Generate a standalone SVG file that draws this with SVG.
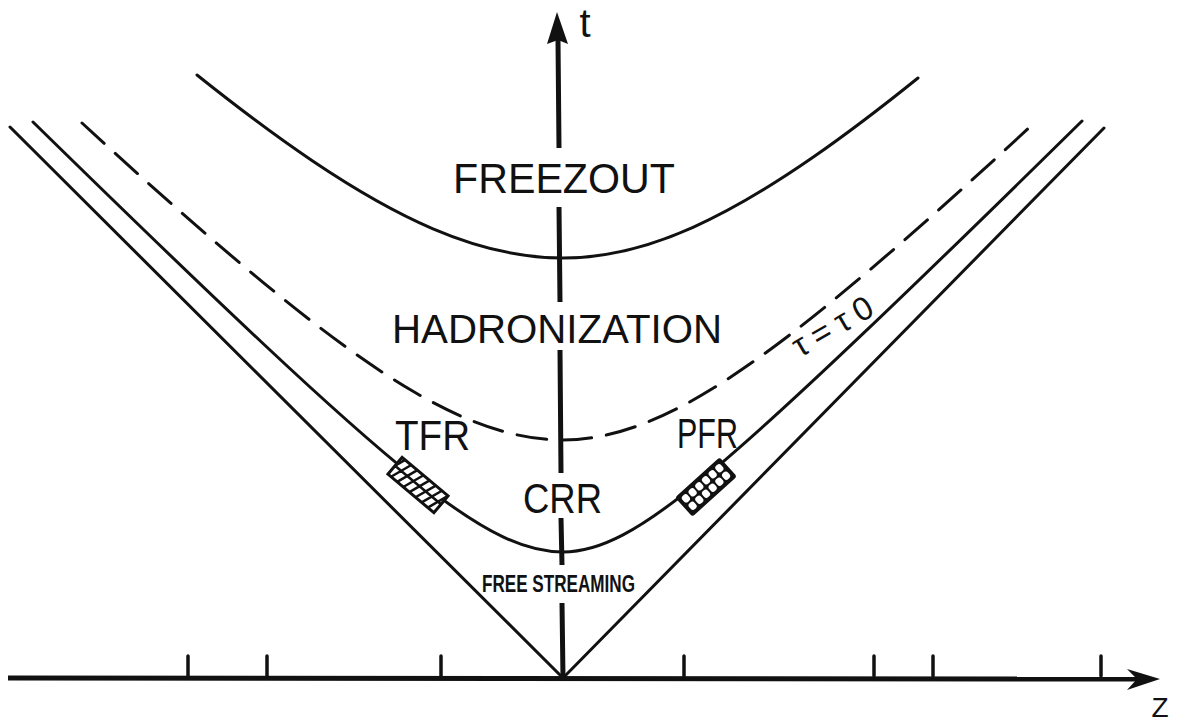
<svg xmlns="http://www.w3.org/2000/svg" width="1178" height="723" viewBox="0 0 1178 723">
<style>
.ln{fill:none;stroke:#111;stroke-width:3;stroke-linecap:round;stroke-linejoin:round}
.dash{stroke-dasharray:30 15}
.ax{fill:none;stroke:#111;stroke-width:5}
.tk{stroke:#111;stroke-width:3.5;stroke-linecap:round}
.lbl{font-family:"Liberation Sans",Arial,sans-serif;fill:#111;text-anchor:middle}
.hatch{fill:none;stroke:#111;stroke-width:2.5;stroke-linecap:round}
</style>
<defs>
<clipPath id="tfrclip"><rect x="-30" y="-11" width="60" height="22"/></clipPath>
</defs>
<rect width="1178" height="723" fill="#fff"/>

<g id="connectors">
  <g id="light-cone"><path class="ln" d="M10,127 L563,678 L1104,128"/></g>
  <g id="freezeout-curve"><path class="ln" d="M197,75 C235.7,105.9 274.3,135.2 313,161.2 C353,188.1 393,211.7 433,228.8 C476.3,247.3 519.7,258 563,258 C606.3,258 649.7,246.7 693,227.3 C733,209.4 773,185 813,157.3 C848,133 883,106.2 918,78"/></g>
  <g id="tau0-curve"><path class="ln dash" d="M82,123 C142.3,178.4 202.7,232.6 263,282.3 C313,323.5 363,361.9 413,391.3 C463,420.7 513,440 563,440 C613,440 663,419.2 713,388.3 C763,357.4 813,317.8 863,275.6 C919.3,228.1 975.7,177.2 1032,125"/></g>
  <g id="crr-curve"><path class="ln" d="M33,122 C109.7,197.1 186.3,271.7 263,343.5 C313,390.4 363,436.5 413,476.6 C443,500.7 473,522.7 503,536.9 C523,546.4 543,552 563,552 C583,552 603,545.4 623,534.9 C653,519.1 683,495.6 713,470.4 C763,428.4 813,381.3 863,333.7 C936,264.3 1009,192.8 1082,121"/></g>
</g>

<g id="z-axis">
  <line x1="8" y1="678" x2="1140" y2="679" class="ax" stroke-width="4"/>
  <polygon points="1160,679 1127,669 1137,679 1127,690" fill="#111"/>
  <line class="tk" x1="188" y1="656" x2="188" y2="676"/>
  <line class="tk" x1="267" y1="656" x2="267" y2="676"/>
  <line class="tk" x1="441" y1="656" x2="441" y2="676"/>
  <line class="tk" x1="684" y1="656" x2="684" y2="676"/>
  <line class="tk" x1="874" y1="656" x2="874" y2="676"/>
  <line class="tk" x1="933" y1="656" x2="933" y2="676"/>
  <line class="tk" x1="1101" y1="656" x2="1101" y2="676"/>
  <text class="lbl" x="1160" y="717" font-size="28">Z</text>
</g>

<g id="t-axis">
  <path class="ax" d="M558,40 L559,148 M559,207 L560,302 M560,350 L561,473 M561,518 L562,565 M562,603 L563,678"/>
  <polygon points="557,12 568,44 558,40 547,44" fill="#111"/>
  <text class="lbl" x="585" y="37" font-size="40">t</text>
</g>

<g id="freezout">
  <text class="lbl" x="564" y="193" font-size="42" textLength="222" lengthAdjust="spacingAndGlyphs">FREEZOUT</text>
</g>
<g id="hadronization">
  <text class="lbl" x="557" y="343" font-size="41" textLength="330" lengthAdjust="spacingAndGlyphs">HADRONIZATION</text>
</g>
<g id="crr">
  <text class="lbl" x="562.5" y="513" font-size="42" textLength="79" lengthAdjust="spacingAndGlyphs">CRR</text>
</g>
<g id="free-streaming">
  <text class="lbl" x="558.5" y="592" font-size="23" font-weight="bold" textLength="153" lengthAdjust="spacingAndGlyphs">FREE STREAMING</text>
</g>
<g id="tau-label">
  <text class="lbl" x="800" y="358" font-size="33" style="text-anchor:start" textLength="88" lengthAdjust="spacing" transform="rotate(-30 800 358)">τ=τ0</text>
</g>

<g id="tfr">
  <text class="lbl" x="432.5" y="450" font-size="43" textLength="75" lengthAdjust="spacingAndGlyphs">TFR</text>
  <g transform="translate(418,485) rotate(40)">
    <rect x="-30" y="-11" width="60" height="22" fill="#fff" stroke="#111" stroke-width="3"/>
    <g clip-path="url(#tfrclip)">
      <path class="hatch" d="M-34,11 L-26,-11 M-26,11 L-18,-11 M-18,11 L-10,-11 M-10,11 L-2,-11 M-2,11 L6,-11 M6,11 L14,-11 M14,11 L22,-11 M22,11 L30,-11 M30,11 L38,-11 M-30,0 L30,0"/>
    </g>
  </g>
</g>

<g id="pfr">
  <text class="lbl" x="707.5" y="448" font-size="43" textLength="61" lengthAdjust="spacingAndGlyphs">PFR</text>
  <g transform="translate(706,487) rotate(-42)">
    <rect x="-29" y="-12" width="58" height="24" fill="#111" stroke="#111" stroke-width="2" rx="2"/>
    <g fill="#fff">
      <rect x="-26" y="-9" width="7" height="8" rx="3"/>
      <rect x="-17" y="-9" width="7" height="8" rx="3"/>
      <rect x="-8" y="-9" width="7" height="8" rx="3"/>
      <rect x="1" y="-9" width="7" height="8" rx="3"/>
      <rect x="10" y="-9" width="7" height="8" rx="3"/>
      <rect x="19" y="-9" width="7" height="8" rx="3"/>
      <rect x="-26" y="1" width="7" height="8" rx="3"/>
      <rect x="-17" y="1" width="7" height="8" rx="3"/>
      <rect x="-8" y="1" width="7" height="8" rx="3"/>
      <rect x="1" y="1" width="7" height="8" rx="3"/>
      <rect x="10" y="1" width="7" height="8" rx="3"/>
      <rect x="19" y="1" width="7" height="8" rx="3"/>
    </g>
  </g>
</g>
</svg>
